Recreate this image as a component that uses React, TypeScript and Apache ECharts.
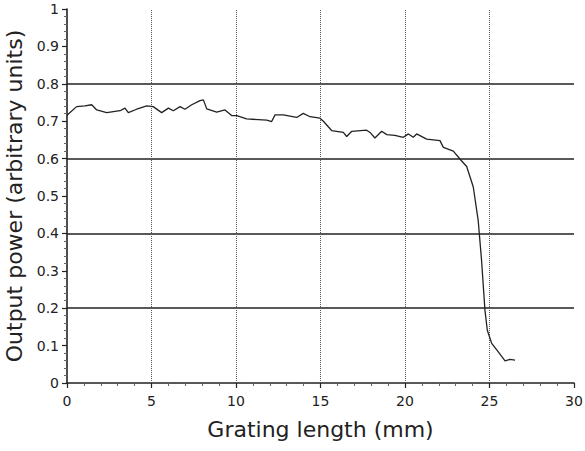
import React, { useEffect, useRef } from "react";
import * as echarts from "echarts";

const gratingLength = [
  0, 0.08, 0.57, 1.06, 1.46, 1.76, 2.35, 3.14, 3.43, 3.63, 4.12, 4.72, 5.1, 5.6, 6.0, 6.29, 6.69, 6.98,
  7.38, 7.87, 8.07, 8.27, 8.86, 9.35, 9.74, 10.04, 10.63, 11.82, 12.11, 12.31, 12.8, 13.59, 13.98,
  14.38, 14.97, 15.17, 15.66, 16.35, 16.55, 16.85, 17.73, 17.93, 18.22, 18.62, 18.92, 19.4, 19.9,
  20.2, 20.49, 20.69, 21.28, 22.07, 22.27, 22.86, 23.25, 23.65, 24.04, 24.33, 24.53, 24.73, 24.87,
  25.13, 25.52, 25.92, 26.21, 26.51,
];
const outputPower = [
  0.715, 0.719, 0.739, 0.741, 0.744, 0.73, 0.723, 0.728, 0.735, 0.723, 0.732, 0.741, 0.739, 0.723,
  0.735, 0.728, 0.739, 0.732, 0.744, 0.755, 0.757, 0.733, 0.724, 0.73, 0.715, 0.715, 0.706, 0.703,
  0.699, 0.717, 0.717, 0.71, 0.721, 0.712, 0.708, 0.7, 0.675, 0.67, 0.659, 0.673, 0.676, 0.67, 0.655,
  0.673, 0.664, 0.662, 0.657, 0.666, 0.657, 0.666, 0.652, 0.648, 0.63, 0.62, 0.599, 0.579, 0.524,
  0.435, 0.328, 0.195, 0.141, 0.106, 0.083, 0.059, 0.063, 0.061,
];
const horizontalRefLines = [0.2, 0.4, 0.6, 0.8];
const verticalRefLines = [5, 10, 15, 20, 25];

const FONT = "DejaVu Sans";
const INK = "#222";

export default function App() {
  const ref = useRef<HTMLDivElement>(null);
  useEffect(() => {
    document.body.style.margin = "0";
    document.body.style.overflow = "hidden";
    if (!ref.current) return;
    const chart = echarts.init(ref.current, null, { renderer: "svg" });
    const data = gratingLength.map((x, i) => [x, outputPower[i]]);
    chart.setOption({
      animation: false,
      backgroundColor: "#fff",
      grid: { left: 67, right: 11, top: 9, bottom: 68, containLabel: false, outerBoundsMode: "none" },
      xAxis: {
        type: "value",
        min: 0,
        max: 30,
        interval: 5,
        name: "Grating length (mm)",
        nameLocation: "middle",
        nameGap: 35,
        nameTextStyle: { fontFamily: FONT, fontSize: 22, color: INK },
        axisLine: { show: true, lineStyle: { color: INK, width: 1.6 } },
        axisTick: { show: true, length: 5, lineStyle: { color: INK, width: 1.2 } },
        minorTick: { show: true, splitNumber: 5, length: 3, lineStyle: { color: "#666", width: 1 } },
        axisLabel: { fontFamily: FONT, fontSize: 14, color: INK, margin: 11, hideOverlap: false },
        splitLine: { show: false },
      },
      yAxis: {
        type: "value",
        min: 0,
        max: 1,
        interval: 0.1,
        name: "Output power (arbitrary units)",
        nameLocation: "middle",
        nameGap: 22,
        nameTextStyle: { fontFamily: FONT, fontSize: 22, color: INK },
        axisLine: { show: true, lineStyle: { color: INK, width: 1.6 } },
        axisTick: { show: true, length: 5, lineStyle: { color: INK, width: 1.2 } },
        minorTick: { show: true, splitNumber: 5, length: 3, lineStyle: { color: "#666", width: 1 } },
        axisLabel: {
          fontFamily: FONT,
          fontSize: 14,
          color: INK,
          margin: 8,
          formatter: (v: number) => (v === 0 || v === 1 ? String(v) : v.toFixed(1)),
        },
        splitLine: { show: false },
      },
      series: [
        {
          type: "line",
          data,
          showSymbol: false,
          symbol: "none",
          lineStyle: { color: INK, width: 1.3 },
          z: 5,
          markLine: {
            silent: true,
            symbol: "none",
            label: { show: false },
            data: [
              ...horizontalRefLines.map((y) => ({
                yAxis: y,
                lineStyle: { color: INK, width: 1.5, type: "solid" },
              })),
              ...verticalRefLines.map((x) => ({
                xAxis: x,
                lineStyle: { color: "#555", width: 1, type: "dotted" },
              })),
            ],
          },
        },
      ],
    });
    return () => chart.dispose();
  }, []);
  return <div ref={ref} style={{ width: 585, height: 451 }} />;
}
